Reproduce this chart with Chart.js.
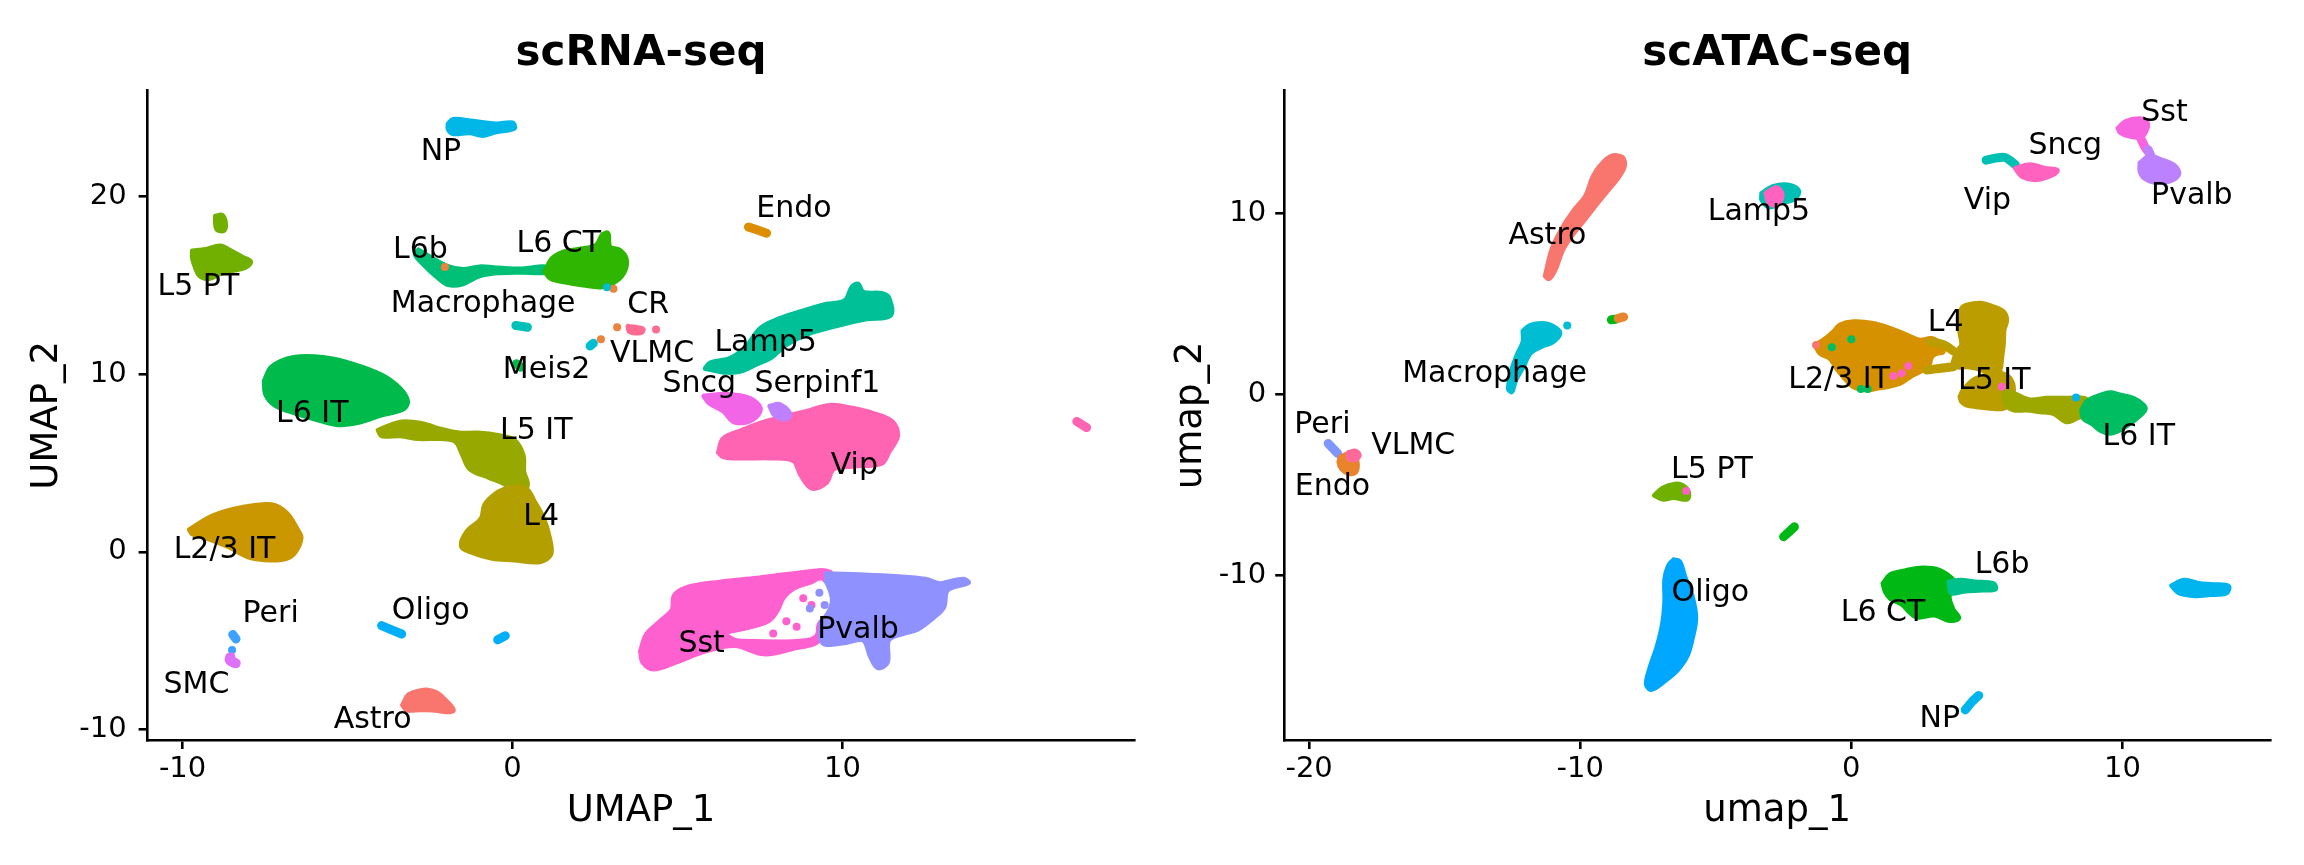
<!DOCTYPE html>
<html lang="en">
<head>
<meta charset="UTF-8">
<title>scRNA-seq / scATAC-seq UMAP</title>
<script src="https://cdn.jsdelivr.net/npm/chart.js@4.4.1/dist/chart.umd.min.js"></script>
<style>
  html, body { margin: 0; padding: 0; background: #fff; }
  body { width: 2304px; height: 865px; position: relative; overflow: hidden; }
  .painel { position: absolute; top: 0; width: 1152px; height: 865px; }
  #painelRna { left: 0; }
  #painelAtac { left: 1152px; }
</style>
</head>
<body>
<div id="painelRna" class="painel"><canvas id="umapRna" width="1152" height="865"></canvas></div>
<div id="painelAtac" class="painel"><canvas id="umapAtac" width="1152" height="865"></canvas></div>
<script>
// ---------- scRNA-seq (left) ----------
var rnaNiveis = ['Astro','CR','Endo','L2/3 IT','L4','L5 IT','L5 PT','L6 CT','L6 IT','L6b','Lamp5','Macrophage','Meis2','NP','Oligo','Peri','Pvalb','Serpinf1','SMC','Sncg','Sst','Vip','VLMC']
var rnaXRange = [-11.06, 18.85]
var rnaYRange = [-10.59, 25.97]
var rnaXTicks = [-10, 0, 10]
var rnaYTicks = [-10, 0, 10, 20]

// cluster outlines (UMAP_1, UMAP_2)
var rnaNP = [[-1.95,24.1],[-1.8,24.35],[-1.2,24.25],[-0.5,24.1],[0.0,24.15],[0.05,23.85],[-0.5,23.65],[-0.9,23.45],[-1.3,23.6],[-1.8,23.55],[-1.95,23.8]]
var rnaEndo = [[7.15,18.3],[7.7,17.95]]
var rnaL5PT = [[-9.70,16.94],[-9.30,17.03],[-8.86,17.22],[-8.53,16.94],[-8.19,16.60],[-7.94,16.35],[-8.08,16.04],[-8.46,15.85],[-8.86,15.67],[-9.19,15.39],[-9.48,15.55],[-9.61,16.01],[-9.70,16.55]]
var rnaL5PTtopo = [[-9.0,18.9],[-8.8,18.95],[-8.7,18.5],[-8.75,18.1],[-8.95,18.15],[-9.0,18.5]]
var rnaL6CT = [[0.98,15.78],[1.21,16.53],[1.56,16.90],[2.02,17.04],[2.54,17.28],[2.72,17.84],[2.89,17.94],[2.95,17.18],[3.24,17.0],[3.44,16.53],[3.41,15.87],[3.18,15.31],[2.72,14.93],[2.14,15.03],[1.56,15.21],[1.15,15.41]]
var rnaL6b = [[-2.85,17.0],[-2.5,16.6],[-2.0,16.1],[-1.5,15.9],[-1.0,16.05],[-0.4,15.98],[0.3,15.93],[1.0,16.05],[1.0,15.75],[0.3,15.75],[-0.4,15.72],[-1.0,15.55],[-1.5,15.1],[-1.95,15.05],[-2.3,15.5],[-2.7,16.2],[-2.95,16.75]]
var rnaMacrophage = [[0.1,12.75],[0.45,12.65]]
var rnaMeis2 = [[0.12,10.6],[0.25,10.4]]
var rnaMeis2b = [[2.35,11.6],[2.45,11.75]]
var rnaCR = [[2.68,11.97],[3.17,12.65],[3.06,14.82],[-2.05,16.05]]
var rnaVLMC = [[3.5,12.7],[3.95,12.55],[3.9,12.35],[3.55,12.4]]
var rnaVLMCdot = [[4.35,12.53]]
var rnaMeis2dot = [[2.86,14.9]]
var rnaLamp5 = [[5.84,10.33],[6.51,10.11],[6.95,10.20],[7.40,10.58],[7.84,10.95],[8.28,11.66],[8.95,12.28],[9.84,12.75],[10.73,13.12],[11.45,13.31],[11.40,14.31],[11.18,14.55],[10.63,14.62],[10.47,15.08],[10.29,14.92],[10.07,14.15],[9.40,13.90],[8.73,13.53],[8.07,13.12],[7.51,12.59],[7.1,11.6],[6.6,10.9],[6.0,10.65]]
var rnaVip = [[6.24,5.61],[6.39,6.38],[6.95,6.85],[7.62,7.31],[8.28,7.63],[8.95,7.93],[9.62,8.25],[10.29,8.09],[10.96,7.78],[11.52,7.31],[11.67,6.54],[11.40,5.61],[11.18,4.99],[10.29,4.83],[9.73,4.67],[9.51,3.90],[9.07,3.59],[8.73,4.36],[8.51,5.14],[7.84,5.29],[6.95,5.29],[6.39,5.36]]
var rnaVipFora = [[17.1,7.35],[17.4,7.0]]
var rnaSncg = [[5.80,8.77],[6.51,8.87],[7.18,8.65],[7.51,8.09],[7.29,7.47],[6.73,7.31],[6.39,7.93],[5.95,8.40]]
var rnaSerpinf1 = [[7.8,8.2],[8.1,8.3],[8.4,7.8],[8.3,7.5],[7.95,7.7]]
var rnaL6IT = [[-7.52,9.64],[-7.30,10.42],[-6.63,10.95],[-5.74,10.95],[-4.85,10.58],[-3.96,9.95],[-3.40,9.18],[-3.18,8.46],[-3.33,8.03],[-3.96,7.72],[-4.63,7.31],[-5.29,7.16],[-5.96,7.47],[-6.63,7.84],[-7.19,8.25],[-7.48,8.87]]
var rnaL5IT = [[-4.07,6.85],[-3.40,7.31],[-2.73,7.22],[-2.18,6.91],[-1.62,6.69],[-1.06,6.69],[-0.40,6.54],[0.05,6.29],[0.32,5.45],[0.34,4.52],[0.45,3.74],[0.16,2.97],[-0.17,3.74],[-0.73,4.21],[-1.29,4.67],[-1.51,5.45],[-1.73,6.22],[-2.18,6.38],[-2.84,6.38],[-3.40,6.54],[-3.96,6.54]]
var rnaL4 = [[-0.17,3.59],[0.39,3.59],[0.67,2.81],[0.94,1.88],[1.12,0.79],[1.16,-0.14],[0.83,-0.55],[0.05,-0.45],[-0.62,-0.36],[-1.29,0.01],[-1.55,0.32],[-1.40,1.10],[-0.95,1.88],[-0.84,2.66],[-0.51,3.28]]
var rnaL23IT = [[-9.79,1.26],[-9.08,2.03],[-8.19,2.50],[-7.30,2.66],[-6.85,2.19],[-6.52,1.26],[-6.41,0.79],[-6.58,0.01],[-6.85,-0.36],[-7.30,-0.45],[-7.97,-0.30],[-8.64,0.32],[-9.30,0.79],[-9.70,1.01]]
var rnaPeri = [[-8.48,-4.65],[-8.38,-4.9]]
var rnaPeriDot = [[-8.50,-5.52]]
var rnaSMC = [[-8.62,-5.85],[-8.5,-5.8],[-8.45,-6.05],[-8.32,-6.2],[-8.35,-6.4],[-8.55,-6.3],[-8.65,-6.1]]
var rnaOligo = [[-3.97,-4.15],[-3.36,-4.62]]
var rnaOligo2 = [[-0.45,-4.95],[-0.22,-4.72]]
var rnaAstro = [[-3.33,-8.62],[-3.16,-8.06],[-2.91,-7.87],[-2.61,-7.78],[-2.30,-7.93],[-2.10,-8.24],[-1.85,-8.72],[-1.80,-8.94],[-2.0,-9.0],[-2.41,-8.90],[-2.81,-8.89],[-3.21,-8.89]]
var rnaSst = [[3.88,-5.59],[4.06,-4.64],[4.50,-3.87],[4.84,-3.25],[4.90,-2.47],[5.28,-2.01],[6.28,-1.70],[7.40,-1.48],[8.51,-1.23],[9.62,-1.14],[9.58,-2.16],[9.40,-3.40],[9.29,-4.96],[8.51,-5.43],[7.62,-5.74],[6.73,-5.27],[5.84,-5.59],[4.95,-6.21],[4.28,-6.59],[3.95,-6.21]]
var rnaPvalb = [[9.51,-1.23],[10.51,-1.29],[11.62,-1.39],[12.51,-1.54],[12.96,-1.79],[13.18,-1.70],[13.67,-1.54],[13.81,-1.73],[13.18,-2.16],[13.07,-3.10],[12.74,-3.72],[12.29,-4.34],[11.85,-4.59],[11.40,-4.96],[11.36,-6.21],[11.07,-6.52],[10.85,-5.90],[10.63,-4.96],[10.07,-5.11],[9.40,-5.11],[9.36,-3.72],[9.51,-2.47]]
// empty gap inside the Sst / Pvalb island
var rnaSstVazio = [[6.59,-4.64],[7.19,-4.40],[7.80,-4.02],[8.10,-3.37],[8.30,-2.61],[8.61,-2.15],[9.06,-1.86],[9.36,-1.64],[9.53,-2.15],[9.60,-2.80],[9.46,-3.46],[9.21,-4.02],[9.13,-4.68],[8.61,-4.87],[8.0,-4.90],[7.29,-4.87],[6.79,-4.83]]
var rnaSstDots = [[8.81,-2.61],[9.06,-2.99],[7.90,-4.59],[8.61,-4.21],[8.3,-3.9]]
var rnaPvalbDots = [[9.01,-3.18],[9.46,-2.99],[9.3,-2.3]]

var rnaRotulos = ['NP','Endo','L5 PT','L6b','L6 CT','Macrophage','CR','VLMC','Lamp5','Meis2','Sncg','Serpinf1','L6 IT','L5 IT','Vip','L4','L2/3 IT','Peri','Oligo','SMC','Astro','Sst','Pvalb']
var rnaRotuloX = [-2.17, 8.53, -9.52, -2.79, 1.40, -0.89, 4.11, 4.23, 7.67, 1.03, 5.66, 9.24, -6.07, 0.72, 10.36, 0.87, -8.73, -7.33, -2.48, -9.58, -4.24, 5.73, 10.47]
var rnaRotuloY = [22.53, 19.30, 14.92, 17.0, 17.35, 13.97, 13.88, 11.13, 11.75, 10.26, 9.43, 9.43, 7.78, 6.78, 4.83, 1.94, 0.10, -3.50, -3.31, -7.53, -9.47, -5.18, -4.43]

// ---------- scATAC-seq (right) ----------
var atacNiveis = ['Astro','Endo','L2/3 IT','L4','L5 IT','L5 PT','L6 CT','L6 IT','L6b','Lamp5','Macrophage','NP','Oligo','Peri','Pvalb','Sncg','Sst','Vip','VLMC']
var atacXRange = [-20.92, 15.45]
var atacYRange = [-19.06, 16.76]
var atacXTicks = [-20, -10, 0, 10]
var atacYTicks = [-10, 0, 10]

var atacSst = [[9.84,14.69],[10.12,15.06],[10.65,15.21],[10.92,15.0],[10.84,14.45],[10.65,14.20],[10.24,14.26],[9.92,14.45]]
var atacSstCauda = [[10.65,14.2],[10.85,13.6],[11.0,13.3]]
var atacPvalb = [[10.65,12.77],[11.0,13.14],[11.46,12.93],[11.92,12.62],[12.08,12.17],[11.73,11.77],[11.19,11.71],[10.79,11.96],[10.65,12.32]]
var atacPvalbCauda = [[10.95,13.5],[11.1,13.0]]
var atacTealVip = [[4.97,12.93],[5.64,13.08],[6.05,12.68]]
var atacVip = [[6.05,12.47],[6.59,12.68],[7.13,12.47],[7.59,12.38],[7.48,12.17],[6.86,11.86],[6.32,12.01]]
var atacLamp5 = [[-3.30,11.1],[-2.90,11.47],[-2.35,11.56],[-1.95,11.25],[-2.09,10.80],[-2.63,10.56],[-3.03,10.35],[-3.30,10.74]]
var atacLamp5Rosa = [[-3.15,11.1],[-2.75,11.4],[-2.55,11.0],[-2.75,10.45],[-3.05,10.6]]
var atacAstro = [[-11.29,6.54],[-11.03,8.06],[-10.62,9.28],[-10.21,10.19],[-9.80,10.95],[-9.53,12.01],[-9.26,12.62],[-8.86,13.14],[-8.45,13.08],[-8.37,12.62],[-8.58,12.01],[-8.99,11.25],[-9.40,10.50],[-9.80,9.73],[-10.21,8.97],[-10.62,8.06],[-10.94,6.85],[-11.16,6.39]]
var atacVerdeA = [[-8.85,4.12],[-8.7,4.15]]
var atacLaranjaA = [[-8.6,4.2],[-8.4,4.28]]
var atacMacrophage = [[-12.11,3.50],[-11.84,3.81],[-11.30,3.90],[-10.89,3.65],[-10.75,3.35],[-11.03,2.89],[-11.43,2.65],[-11.84,2.28],[-12.11,1.52],[-12.39,0.76],[-12.52,0.16],[-12.65,0.31],[-12.52,1.37],[-12.30,2.28],[-12.11,2.89]]
var atacMacroDot = [[-10.48,3.80]]
var atacPeri = [[-19.3,-2.7],[-18.95,-3.25]]
var atacEndo = [[-18.85,-3.45],[-18.6,-3.3],[-18.3,-3.5],[-18.22,-3.9],[-18.3,-4.3],[-18.55,-4.35],[-18.8,-4.1],[-18.9,-3.75]]
var atacVLMC = [[-18.55,-3.2],[-18.3,-3.12],[-18.15,-3.35],[-18.3,-3.6],[-18.55,-3.5]]
var atacL5PT = [[-7.26,-5.56],[-6.96,-5.17],[-6.50,-4.95],[-6.23,-5.01],[-6.01,-5.38],[-6.06,-5.77],[-6.55,-5.68],[-6.96,-5.77]]
var atacVerdeB = [[-2.5,-7.85],[-2.1,-7.3]]
var atacOligo = [[-6.55,-9.12],[-6.34,-9.21],[-6.15,-10.03],[-5.88,-11.10],[-5.74,-12.31],[-5.88,-13.53],[-6.07,-14.45],[-6.42,-15.20],[-6.82,-15.72],[-7.37,-16.27],[-7.56,-15.97],[-7.42,-15.05],[-7.15,-13.84],[-6.96,-12.62],[-6.88,-11.41],[-6.88,-10.19],[-6.74,-9.43]]
var atacNP = [[4.2,-17.4],[4.45,-16.95],[4.7,-16.6]]
var atacL6CT = [[1.17,-10.43],[1.44,-9.94],[1.98,-9.73],[2.52,-9.58],[3.20,-9.67],[3.69,-10.13],[3.88,-10.64],[3.61,-11.10],[3.75,-11.86],[3.96,-12.32],[3.61,-12.47],[3.07,-12.17],[2.39,-12.26],[1.85,-11.56],[1.44,-11.25],[1.25,-10.86]]
var atacL6b = [[3.61,-10.34],[4.02,-10.25],[4.57,-10.34],[5.24,-10.43],[5.31,-10.73],[4.82,-10.79],[4.15,-10.85],[3.69,-10.95]]
var atacAzulDir = [[11.82,-10.55],[12.28,-10.25],[12.82,-10.43],[13.36,-10.49],[13.91,-10.58],[13.83,-10.95],[13.23,-11.04],[12.69,-11.10],[12.09,-10.95]]
var atacL23IT = [[-1.34,2.73],[-1.03,3.0],[-0.66,3.46],[-0.42,3.83],[0.08,4.01],[0.81,3.92],[1.43,3.65],[2.04,3.28],[2.53,3.0],[2.96,3.09],[3.27,2.82],[3.39,2.36],[3.15,2.27],[2.96,2.08],[2.84,1.53],[2.53,1.26],[2.17,0.98],[1.80,0.62],[1.30,0.43],[0.94,0.34],[0.57,0.25],[0.08,0.43],[-0.29,0.98],[-0.54,1.44],[-0.79,1.99],[-1.15,2.27]]
var atacL4 = [[3.76,1.81],[3.89,2.36],[4.07,2.73],[4.01,3.37],[3.95,4.11],[4.07,4.75],[4.26,4.93],[4.75,5.03],[5.24,4.84],[5.61,4.57],[5.73,4.11],[5.63,3.56],[5.61,2.82],[5.55,2.09],[5.48,1.35],[5.30,1.07],[4.99,1.26],[4.62,1.44],[4.26,1.53],[3.89,1.53]]
var atacL4baixo = [[4.01,-0.12],[4.13,0.25],[4.50,0.80],[4.99,1.07],[5.48,1.17],[5.85,0.89],[5.98,0.25],[5.85,-0.49],[5.61,-0.76],[5.12,-0.76],[4.62,-0.67],[4.26,-0.58],[4.07,-0.40]]
var atacPonte1 = [[2.78,1.35],[3.3,1.45],[3.76,1.53]]
var atacPonte2 = [[2.9,2.9],[3.4,2.75],[3.76,2.4]]
var atacL5IT = [[5.61,0.25],[5.98,0.06],[6.59,-0.30],[7.21,-0.21],[7.94,-0.21],[8.56,-0.21],[8.80,-0.49],[8.68,-1.04],[8.31,-1.31],[7.94,-1.50],[7.45,-1.04],[6.96,-0.95],[6.47,-0.85],[5.98,-0.85],[5.67,-0.49]]
var atacL6IT = [[8.50,-0.85],[8.68,-0.40],[9.05,-0.12],[9.54,0.10],[9.91,-0.03],[10.40,-0.21],[10.77,-0.58],[10.83,-0.85],[10.53,-1.31],[10.28,-1.59],[9.91,-1.96],[9.54,-2.14],[9.17,-1.96],[8.86,-1.59],[8.56,-1.31]]
var atacVipDots = [[1.55,1.02],[1.86,1.17],[2.10,1.57],[5.55,0.43],[-6.09,-5.32]]
var atacL6ITdots = [[-0.72,2.6],[0.0,3.05],[0.35,0.3],[0.6,0.3]]
var atacNPdot = [[8.29,-0.16]]
var atacAstroDot = [[-1.30,2.73]]

var atacRotulos = ['Sst','Sncg','Pvalb','Vip','Lamp5','Astro','L4','Macrophage','L2/3 IT','L5 IT','L6 IT','Peri','VLMC','Endo','L5 PT','L6b','Oligo','L6 CT','NP']
var atacRotuloX = [11.55, 7.89, 12.56, 5.02, -3.41, -11.21, 3.48, -13.16, -0.45, 5.27, 10.6, -19.51, -16.16, -19.14, -5.14, 5.56, -5.20, 1.17, 3.26]
var atacRotuloY = [15.51, 13.69, 10.95, 10.65, 10.04, 8.73, 3.92, 1.13, 0.78, 0.75, -2.38, -1.71, -2.84, -5.10, -4.19, -9.43, -10.95, -12.07, -17.94]

// which outline belongs to which cluster, and how it is drawn (listed bottom to top)
var rnaCamadas = [
    ['NP', rnaNP, 'blob'], ['Endo', rnaEndo, 'linha'], ['L5 PT', rnaL5PT, 'blob'], ['L5 PT', rnaL5PTtopo, 'blob'],
    ['L6b', rnaL6b, 'blob'], ['L6 CT', rnaL6CT, 'blob'], ['Macrophage', rnaMacrophage, 'linha'],
    ['L6 IT', rnaMeis2, 'linha'], ['Meis2', rnaMeis2b, 'linha'], ['CR', rnaCR, 'pontos'], ['VLMC', rnaVLMC, 'blob'],
    ['VLMC', rnaVLMCdot, 'pontos'], ['Meis2', rnaMeis2dot, 'pontos'], ['Lamp5', rnaLamp5, 'blob'],
    ['Vip', rnaVip, 'blob'], ['Vip', rnaVipFora, 'linha'], ['Sncg', rnaSncg, 'blob'], ['Serpinf1', rnaSerpinf1, 'blob'],
    ['L6 IT', rnaL6IT, 'blob'], ['L5 IT', rnaL5IT, 'blob'], ['L4', rnaL4, 'blob'], ['L2/3 IT', rnaL23IT, 'blob'],
    ['Peri', rnaPeri, 'linha'], ['Peri', rnaPeriDot, 'pontos'], ['SMC', rnaSMC, 'blob'],
    ['Oligo', rnaOligo, 'linha'], ['Oligo', rnaOligo2, 'linha'], ['Astro', rnaAstro, 'blob'],
    ['Sst', rnaSst, 'blob'], ['Pvalb', rnaPvalb, 'blob'], [null, rnaSstVazio, 'vazio'],
    ['Sst', rnaSstDots, 'pontos'], ['Pvalb', rnaPvalbDots, 'pontos']
]
var atacCamadas = [
    ['Sst', atacSst, 'blob'], ['Sst', atacSstCauda, 'linha'], ['Pvalb', atacPvalb, 'blob'], ['Pvalb', atacPvalbCauda, 'linha'],
    ['Lamp5', atacTealVip, 'linha'], ['Vip', atacVip, 'blob'], ['Lamp5', atacLamp5, 'blob'], ['Vip', atacLamp5Rosa, 'blob'],
    ['Astro', atacAstro, 'blob'], ['L6 CT', atacVerdeA, 'linha'], ['Endo', atacLaranjaA, 'linha'],
    ['Macrophage', atacMacrophage, 'blob'], ['Macrophage', atacMacroDot, 'pontos'],
    ['Peri', atacPeri, 'linha'], ['Endo', atacEndo, 'blob'], ['VLMC', atacVLMC, 'blob'],
    ['L5 PT', atacL5PT, 'blob'], ['L6 CT', atacVerdeB, 'linha'], ['Oligo', atacOligo, 'blob'], ['NP', atacNP, 'linha'],
    ['L6 CT', atacL6CT, 'blob'], ['L6b', atacL6b, 'blob'], ['NP', atacAzulDir, 'blob'],
    ['L2/3 IT', atacL23IT, 'blob'], ['L4', atacPonte1, 'linha'], ['L4', atacPonte2, 'linha'],
    ['L4', atacL4, 'blob'], ['L4', atacL4baixo, 'blob'], ['L5 IT', atacL5IT, 'blob'], ['L6 IT', atacL6IT, 'blob'],
    ['Vip', atacVipDots, 'pontos'], ['L6 IT', atacL6ITdots, 'pontos'], ['NP', atacNPdot, 'pontos'], ['Astro', atacAstroDot, 'pontos']
]

// ggplot default hue palette (hcl, c=100, l=65)
function hcl(h) {
    var L = 65, C = 100, hr = h * Math.PI / 180
    var U = C * Math.cos(hr), V = C * Math.sin(hr)
    var Xn = 95.047, Yn = 100, Zn = 108.883
    var Y = Yn * Math.pow((L + 16) / 116, 3)
    var t = Xn + 15 * Yn + 3 * Zn
    var u = U / (13 * L) + 4 * Xn / t, v = V / (13 * L) + 9 * Yn / t
    var X = 9 * Y * u / (4 * v)
    var Z = -X / 3 - 5 * Y + 3 * Y / v
    var lin = [3.240479 * X - 1.537150 * Y - 0.498535 * Z,
              -0.969256 * X + 1.875992 * Y + 0.041556 * Z,
               0.055648 * X - 0.204043 * Y + 1.057311 * Z]
    var rgb = lin.map(function (c) {
        c = c / 100
        var g = c <= 0.0031308 ? 12.92 * c : 1.055 * Math.pow(c, 1 / 2.4) - 0.055
        return Math.round(255 * Math.min(1, Math.max(0, g)))
    })
    return 'rgb(' + rgb.join(',') + ')'
}

function corDe(nivel, niveis) {
    if (nivel == null) return '#ffffff'
    return hcl(15 + 360 * niveis.indexOf(nivel) / niveis.length)
}

function montarDatasets(camadas, niveis) {
    var ds = camadas.map(function (c) {
        var cor = corDe(c[0], niveis)
        var pts = c[1].map(function (p) { return {x: p[0], y: p[1]} })
        if (c[2] == 'blob' || c[2] == 'vazio') {
            pts.push(pts[0])
            return {data: pts, borderColor: cor, backgroundColor: cor, fill: 'shape',
                    borderWidth: c[2] == 'vazio' ? 1 : 5,
                    tension: 0.35, pointRadius: 0, borderJoinStyle: 'round', borderCapStyle: 'round'}
        }
        if (c[2] == 'linha') {
            return {data: pts, borderColor: cor, fill: false, borderWidth: 9, tension: 0.3,
                    pointRadius: 0, borderCapStyle: 'round', borderJoinStyle: 'round'}
        }
        return {data: pts, showLine: false, pointRadius: 4, pointBorderWidth: 0,
                pointBackgroundColor: cor, borderColor: cor}
    })
    // Chart.js paints dataset 0 last, so flip to keep the list order bottom-to-top
    return ds.reverse()
}

// cluster names drawn at their data positions
var rotulos = {
    id: 'rotulos',
    afterDatasetsDraw(chart, args, opts) {
        var ctx = chart.ctx, sx = chart.scales.x, sy = chart.scales.y
        ctx.save()
        ctx.font = '30px "DejaVu Sans"'
        ctx.fillStyle = '#000'
        ctx.textAlign = 'center'
        ctx.textBaseline = 'middle'
        for (var i = 0; i < opts.nomes.length; i++) {
            ctx.fillText(opts.nomes[i], sx.getPixelForValue(opts.xs[i]), sy.getPixelForValue(opts.ys[i]))
        }
        ctx.restore()
    }
}

Chart.defaults.font.family = '"DejaVu Sans"'
Chart.defaults.color = '#000'

function montarUmap(id, cfg) {
    var eixo = {display: true, color: '#000', width: 2.6}
    var grade = {display: true, drawOnChartArea: false, drawTicks: true, tickLength: 9,
                 tickWidth: 2.6, tickColor: '#000', color: '#000', lineWidth: 2.6}
    new Chart(document.getElementById(id), {
        type: 'line',
        data: {datasets: montarDatasets(cfg.camadas, cfg.niveis)},
        plugins: [rotulos],
        options: {
            responsive: false,
            animation: false,
            devicePixelRatio: 1,
            events: [],
            layout: {padding: {left: 0, right: cfg.padDireita, top: 0, bottom: 0}},
            plugins: {
                legend: {display: false},
                tooltip: {enabled: false},
                title: {display: true, text: cfg.titulo, fullSize: false, color: '#000',
                        font: {size: 42, weight: 'bold'}, padding: {top: 29, bottom: 11.3}},
                rotulos: {nomes: cfg.nomes, xs: cfg.xs, ys: cfg.ys}
            },
            scales: {
                x: {
                    type: 'linear', min: cfg.xRange[0], max: cfg.xRange[1],
                    afterBuildTicks: function (s) { s.ticks = cfg.xTicks.map(function (v) { return {value: v} }) },
                    afterFit: function (s) { s.height = 125 },
                    border: eixo, grid: grade,
                    ticks: {color: '#000', font: {size: 29}, padding: 3, maxRotation: 0, autoSkip: false},
                    title: {display: true, text: cfg.tituloX, color: '#000', font: {size: 37}, padding: {top: 0, bottom: 31}}
                },
                y: {
                    type: 'linear', min: cfg.yRange[0], max: cfg.yRange[1],
                    afterBuildTicks: function (s) { s.ticks = cfg.yTicks.map(function (v) { return {value: v} }) },
                    afterFit: function (s) { s.width = cfg.larguraY },
                    border: eixo, grid: grade,
                    ticks: {color: '#000', font: {size: 29}, padding: cfg.padTickY, autoSkip: false},
                    title: {display: true, text: cfg.tituloY, color: '#000', font: {size: 37}, padding: {top: cfg.padTituloY, bottom: 0}}
                }
            }
        }
    })
}

montarUmap('umapRna', {
    titulo: 'scRNA-seq', tituloX: 'UMAP_1', tituloY: 'UMAP_2',
    camadas: rnaCamadas, niveis: rnaNiveis,
    xRange: rnaXRange, yRange: rnaYRange, xTicks: rnaXTicks, yTicks: rnaYTicks,
    nomes: rnaRotulos, xs: rnaRotuloX, ys: rnaRotuloY,
    larguraY: 147.6, padDireita: 17.5, padTickY: 12, padTituloY: 25
})

montarUmap('umapAtac', {
    titulo: 'scATAC-seq', tituloX: 'umap_1', tituloY: 'umap_2',
    camadas: atacCamadas, niveis: atacNiveis,
    xRange: atacXRange, yRange: atacYRange, xTicks: atacXTicks, yTicks: atacYTicks,
    nomes: atacRotulos, xs: atacRotuloX, ys: atacRotuloY,
    larguraY: 132.2, padDireita: 33.8, padTickY: 9, padTituloY: 17
})
</script>
</body>
</html>
